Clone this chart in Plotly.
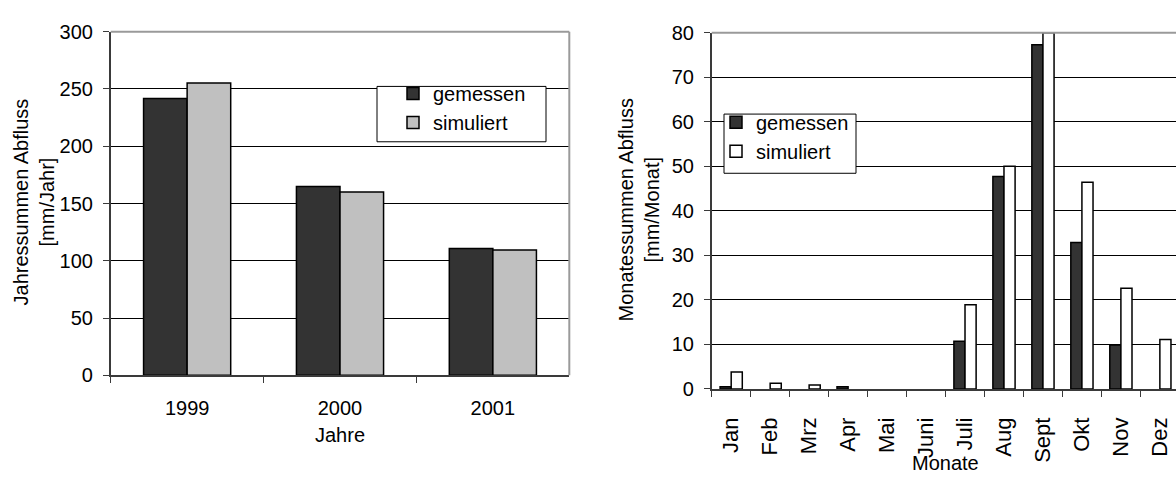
import plotly.graph_objects as go

# Annual runoff totals (mm/year)
years = ["1999", "2000", "2001"]
annual_measured = [241.6, 164.8, 110.8]
annual_simulated = [255.2, 160.0, 109.4]

# Monthly runoff totals (mm/month)
months = ["Jan", "Feb", "Mrz", "Apr", "Mai", "Juni", "Juli", "Aug", "Sept", "Okt", "Nov", "Dez"]
monthly_measured = [0.5, 0, 0, 0.5, 0, 0, 10.7, 47.7, 77.3, 32.9, 9.9, 0]
monthly_simulated = [3.8, 1.3, 0.9, 0, 0, 0, 18.9, 50.0, 80.0, 46.4, 22.6, 11.1]

W, H = 1176, 484
FONT = "Liberation Sans, Arial, sans-serif"
DARK = "#333333"
AXIS = "#3a3a3a"
BORDER = "#9a9a9a"


def px_x(v):
    return v / W


def px_y(v):
    return 1 - v / H


def outline(values):
    # no outline on empty bars so they don't leave a dash on the axis
    return dict(color="black", width=[1.5 if v else 0 for v in values])


fig = go.Figure()
fig.add_trace(go.Bar(x=years, y=annual_measured, name="gemessen",
                     marker=dict(color=DARK, line=outline(annual_measured)),
                     xaxis="x", yaxis="y", legend="legend"))
fig.add_trace(go.Bar(x=years, y=annual_simulated, name="simuliert",
                     marker=dict(color="#c0c0c0", line=outline(annual_simulated)),
                     xaxis="x", yaxis="y", legend="legend"))
fig.add_trace(go.Bar(x=months, y=monthly_measured, name="gemessen",
                     marker=dict(color=DARK, line=outline(monthly_measured)),
                     xaxis="x2", yaxis="y2", legend="legend2"))
fig.add_trace(go.Bar(x=months, y=monthly_simulated, name="simuliert",
                     marker=dict(color="white", line=outline(monthly_simulated)),
                     xaxis="x2", yaxis="y2", legend="legend2"))

common_x = dict(type="category", showline=True, linecolor=AXIS, linewidth=1.5,
                ticks="outside", tickson="boundaries", ticklen=6, tickwidth=1,
                tickcolor=AXIS, showgrid=False, zeroline=False,
                tickfont=dict(family=FONT, size=20, color="black"))
common_y = dict(showline=True, linecolor=AXIS, linewidth=1.5, ticks="outside",
                ticklen=6, tickwidth=1, tickcolor=AXIS, showgrid=True,
                gridcolor="black", gridwidth=1, zeroline=False,
                tickfont=dict(family=FONT, size=20, color="black"))

fig.update_layout(
    width=W, height=H, autosize=False,
    margin=dict(l=0, r=0, t=0, b=0),
    paper_bgcolor="white", plot_bgcolor="white",
    font=dict(family=FONT, size=20, color="black"),
    barmode="group", bargap=0.43, bargroupgap=0,
    xaxis=dict(common_x, domain=[px_x(110.7), px_x(569.3)], anchor="y",
               ticklabelstandoff=14),
    yaxis=dict(common_y, domain=[px_y(381.7), px_y(21.7)], anchor="x",
               range=[0, 300], dtick=50, ticklabelstandoff=6),
    xaxis2=dict(common_x, domain=[px_x(711.7), 1.0], anchor="y2",
                range=[-0.5, 11.414], tickangle=-90, ticklabelstandoff=18,
                tickfont=dict(family=FONT, size=22, color="black")),
    yaxis2=dict(common_y, domain=[px_y(396), px_y(22.7)], anchor="x2",
                range=[0, 80], dtick=10, ticklabelstandoff=6),
    legend=dict(x=px_x(393), y=px_y(66), xanchor="left", yanchor="top",
                bgcolor="rgba(0,0,0,0)", borderwidth=0,
                font=dict(family=FONT, size=20, color="black")),
    legend2=dict(x=px_x(716), y=px_y(96), xanchor="left", yanchor="top",
                 bgcolor="rgba(0,0,0,0)", borderwidth=0,
                 font=dict(family=FONT, size=20, color="black")),
    showlegend=True,
)

# Plot frame (grey top/right edges) and legend boxes
shapes = [
    dict(type="line", xref="x domain", yref="y domain", x0=0, x1=1, y0=1, y1=1,
         line=dict(color=BORDER, width=2), layer="above"),
    dict(type="line", xref="x domain", yref="y domain", x0=1, x1=1, y0=0, y1=1,
         line=dict(color=BORDER, width=2), layer="above"),
    dict(type="line", xref="x2 domain", yref="y2 domain", x0=0, x1=1, y0=1, y1=1,
         line=dict(color=BORDER, width=2), layer="above"),
    dict(type="rect", xref="paper", yref="paper",
         x0=px_x(377), x1=px_x(546), y0=px_y(137), y1=px_y(79),
         line=dict(color="black", width=1), fillcolor="white", layer="above"),
    dict(type="rect", xref="paper", yref="paper",
         x0=px_x(724), x1=px_x(856), y0=px_y(170), y1=px_y(108),
         line=dict(color="black", width=1), fillcolor="white", layer="above"),
]
fig.update_layout(shapes=shapes)

# Axis titles
title_font = dict(family=FONT, size=20, color="black")
fig.update_layout(annotations=[
    dict(text="Jahressummen Abfluss<br>[mm/Jahr]", xref="paper", yref="paper",
         x=px_x(33.5), y=px_y(200), textangle=-90, showarrow=False,
         xanchor="center", yanchor="middle", font=title_font),
    dict(text="Monatessummen Abfluss<br>[mm/Monat]", xref="paper", yref="paper",
         x=px_x(638), y=px_y(209), textangle=-90, showarrow=False,
         xanchor="center", yanchor="middle", font=title_font),
    dict(text="Jahre", xref="paper", yref="paper", x=px_x(340), y=px_y(444),
         showarrow=False, xanchor="center", yanchor="middle", font=title_font),
    dict(text="Monate", xref="paper", yref="paper", x=px_x(946), y=px_y(473),
         showarrow=False, xanchor="center", yanchor="middle", font=title_font),
])

fig.write_html("out.html")
